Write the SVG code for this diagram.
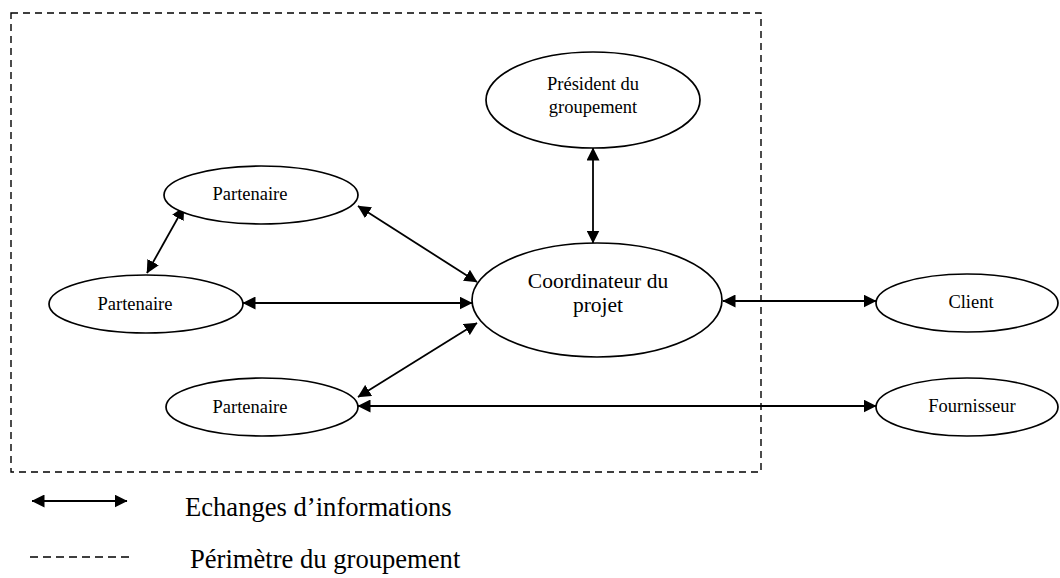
<svg xmlns="http://www.w3.org/2000/svg" width="1060" height="578" viewBox="0 0 1060 578">
<style>
  .node ellipse { fill: #fff; stroke: #000; stroke-width: 1.7; }
  .lbl { font-family: "Liberation Serif", "Times New Roman", serif; fill: #000; text-anchor: middle; }
  .s { font-size: 18.5px; }
  .m { font-size: 21.5px; }
  .leg { font-family: "Liberation Serif", "Times New Roman", serif; fill: #000; font-size: 26.6px; }
  .conn line { stroke: #000; stroke-width: 1.8; marker-start: url(#ah); marker-end: url(#ah); }
  .dash { fill: none; stroke: #000; stroke-width: 1.4; stroke-dasharray: 7 5; }
</style>
<defs>
  <marker id="ah" viewBox="0 0 13 13" refX="12.5" refY="6.5" markerWidth="13" markerHeight="13" markerUnits="userSpaceOnUse" orient="auto-start-reverse">
    <path d="M0,0 L13,6.5 L0,13 z" fill="#000"/>
  </marker>
</defs>
<rect width="1060" height="578" fill="#fff"/>
<rect id="perimetre" class="dash" x="11" y="13" width="750" height="459"/>

<g id="connectors" class="conn">
  <line x1="593" y1="148" x2="593" y2="243"/>
  <line x1="184" y1="207" x2="147" y2="273"/>
  <line x1="358" y1="206" x2="477" y2="282"/>
  <line x1="243" y1="303" x2="472" y2="303"/>
  <line x1="358" y1="397" x2="477" y2="323"/>
  <line x1="358" y1="406" x2="876" y2="406"/>
  <line x1="723" y1="301" x2="876" y2="301"/>
</g>

<g id="president" class="node">
  <ellipse cx="593" cy="100" rx="107" ry="48"/>
  <text class="lbl s" x="593" y="90">Président du</text>
  <text class="lbl s" x="593" y="113">groupement</text>
</g>
<g id="coordinateur" class="node">
  <ellipse cx="597" cy="300" rx="125" ry="57"/>
  <text class="lbl m" x="598" y="288">Coordinateur du</text>
  <text class="lbl m" x="598" y="312">projet</text>
</g>
<g id="partenaire1" class="node">
  <ellipse cx="261" cy="195" rx="97" ry="29"/>
  <text class="lbl s" x="250" y="200">Partenaire</text>
</g>
<g id="partenaire2" class="node">
  <ellipse cx="146" cy="304" rx="97" ry="29"/>
  <text class="lbl s" x="135" y="310">Partenaire</text>
</g>
<g id="partenaire3" class="node">
  <ellipse cx="262" cy="407" rx="96" ry="29"/>
  <text class="lbl s" x="250" y="413">Partenaire</text>
</g>
<g id="client" class="node">
  <ellipse cx="967" cy="303" rx="91" ry="29"/>
  <text class="lbl s" x="971" y="308">Client</text>
</g>
<g id="fournisseur" class="node">
  <ellipse cx="967" cy="407" rx="91" ry="29"/>
  <text class="lbl s" x="972" y="412">Fournisseur</text>
</g>

<g id="legende">
  <g class="conn"><line x1="32" y1="501" x2="127" y2="501"/></g>
  <text class="leg" x="185" y="516">Echanges d’informations</text>
  <line class="dash" x1="30" y1="557" x2="130" y2="557" style="stroke-dasharray: 8 5"/>
  <text class="leg" x="190" y="568">Périmètre du groupement</text>
</g>
</svg>
